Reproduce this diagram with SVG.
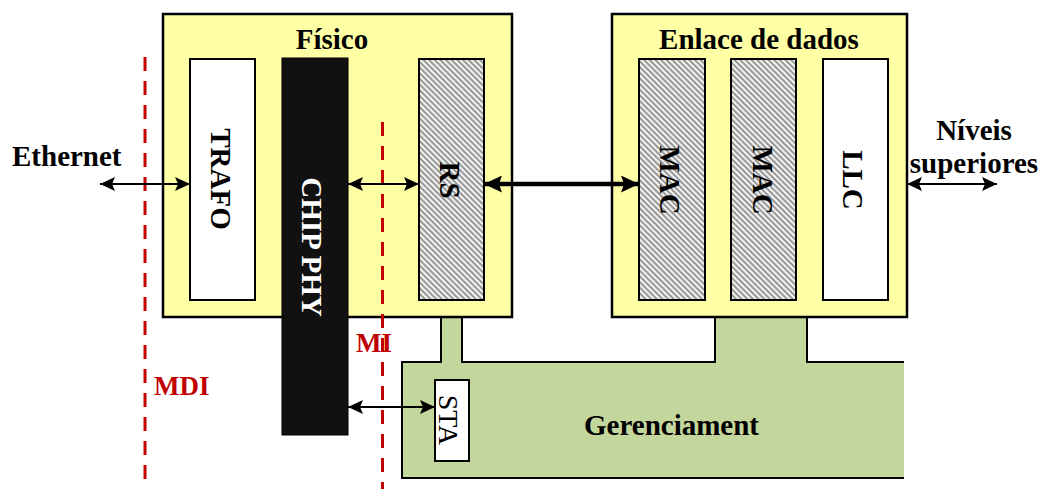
<svg xmlns="http://www.w3.org/2000/svg" width="1042" height="489" viewBox="0 0 1042 489">
<defs>
<pattern id="hatch" patternUnits="userSpaceOnUse" width="4" height="4" patternTransform="rotate(-45)">
<rect width="4" height="4" fill="#f2f2f2"/>
<rect width="2" height="4" fill="#999999"/>
</pattern>
<marker id="ah" markerUnits="userSpaceOnUse" viewBox="0 0 15 14" refX="15" refY="7" markerWidth="15" markerHeight="14" orient="auto-start-reverse">
<path d="M0,0 L15,7 L0,14 L3,7 Z" fill="#000"/>
</marker>
<marker id="ahb" markerUnits="userSpaceOnUse" viewBox="0 0 18 17" refX="18" refY="8.5" markerWidth="18" markerHeight="17" orient="auto-start-reverse">
<path d="M0,0 L18,8.5 L0,17 L3,8.5 Z" fill="#000"/>
</marker>
</defs>
<style>
.t{font-family:"Liberation Serif","Times New Roman",serif;font-weight:bold;font-size:29px;fill:#000}
.r{font-family:"Liberation Serif","Times New Roman",serif;font-weight:bold;font-size:27px;fill:#c00000}
.v{text-anchor:middle}
.layer{fill:#ffffa6;stroke:#000;stroke-width:2.5}
.sub{stroke:#000;stroke-width:2}
.dash{stroke:#c00000;stroke-width:3;stroke-dasharray:14 10;fill:none}
.arr{stroke:#000;stroke-width:2;fill:none;marker-start:url(#ah);marker-end:url(#ah)}
.arrb{stroke:#000;stroke-width:4.5;fill:none;marker-start:url(#ahb);marker-end:url(#ahb)}
</style>
<rect width="1042" height="489" fill="#fff"/>

<g id="gerenciamento">
<path d="M441,316 L462,316 L462,362 L715,362 L715,316 L807,316 L807,362 L904,362 L904,478 L402,478 L402,362 L441,362 Z" fill="#c3d69b"/>
<path d="M441,316 L441,362 L402,362 L402,478 L904,478 M462,316 L462,362 L715,362 L715,316 M807,316 L807,362 L904,362" fill="none" stroke="#000" stroke-width="2"/>
<text class="t" x="584" y="435">Gerenciament</text>
</g>

<g id="fisico">
<rect class="layer" x="163" y="14" width="349" height="303"/>
<text class="t v" x="332" y="49">Físico</text>
</g>

<g id="enlace">
<rect class="layer" x="612" y="14" width="295" height="303"/>
<text class="t v" x="759" y="49">Enlace de dados</text>
</g>

<g id="trafo">
<rect class="sub" x="190" y="59" width="65" height="241" fill="#fff"/>
<text class="t v" transform="translate(221,179) rotate(90)" dy="0.33em">TRAFO</text>
</g>

<g id="chip-phy">
<rect x="282" y="58" width="66" height="377" fill="#111" stroke="#000" stroke-width="1"/>
<text class="t v" transform="translate(312,247) rotate(90)" dy="0.33em" style="fill:#fff">CHIP PHY</text>
</g>

<g id="rs">
<rect class="sub" x="419" y="59" width="65" height="241" fill="url(#hatch)"/>
<text class="t v" transform="translate(450,180) rotate(90)" dy="0.33em">RS</text>
</g>

<g id="mac1">
<rect class="sub" x="639" y="59" width="66" height="241" fill="url(#hatch)"/>
<text class="t v" transform="translate(670,180) rotate(90)" dy="0.33em">MAC</text>
</g>

<g id="mac2">
<rect class="sub" x="731" y="59" width="65" height="241" fill="url(#hatch)"/>
<text class="t v" transform="translate(763,180) rotate(90)" dy="0.33em">MAC</text>
</g>

<g id="llc">
<rect class="sub" x="823" y="59" width="65" height="241" fill="#fff"/>
<text class="t v" transform="translate(853,180) rotate(90)" dy="0.33em">LLC</text>
</g>

<g id="sta">
<rect class="sub" x="435" y="380" width="34" height="81" fill="#fff"/>
<text class="t v" transform="translate(448,420) rotate(90)" dy="0.33em" style="font-weight:normal;font-size:28px">STA</text>
</g>

<g id="ethernet">
<text class="t" x="12" y="166">Ethernet</text>
</g>

<g id="niveis">
<text class="t v" x="974" y="140">Níveis</text>
<text class="t v" x="974" y="173">superiores</text>
</g>

<g id="interfaces">
<line class="dash" x1="145" y1="57" x2="145" y2="489"/>
<text class="r" x="154" y="395">MDI</text>
<line class="dash" x1="382.5" y1="122" x2="382.5" y2="489"/>
<text class="r" x="356" y="352">MI</text>
</g>

<g id="connectors">
<line class="arr" x1="100" y1="184" x2="190" y2="184"/>
<line class="arr" x1="348" y1="184" x2="419" y2="184"/>
<line class="arrb" x1="484" y1="184" x2="639" y2="184"/>
<line class="arr" x1="907" y1="184" x2="997" y2="184"/>
<line class="arr" x1="348" y1="407" x2="435" y2="407"/>
</g>
</svg>
